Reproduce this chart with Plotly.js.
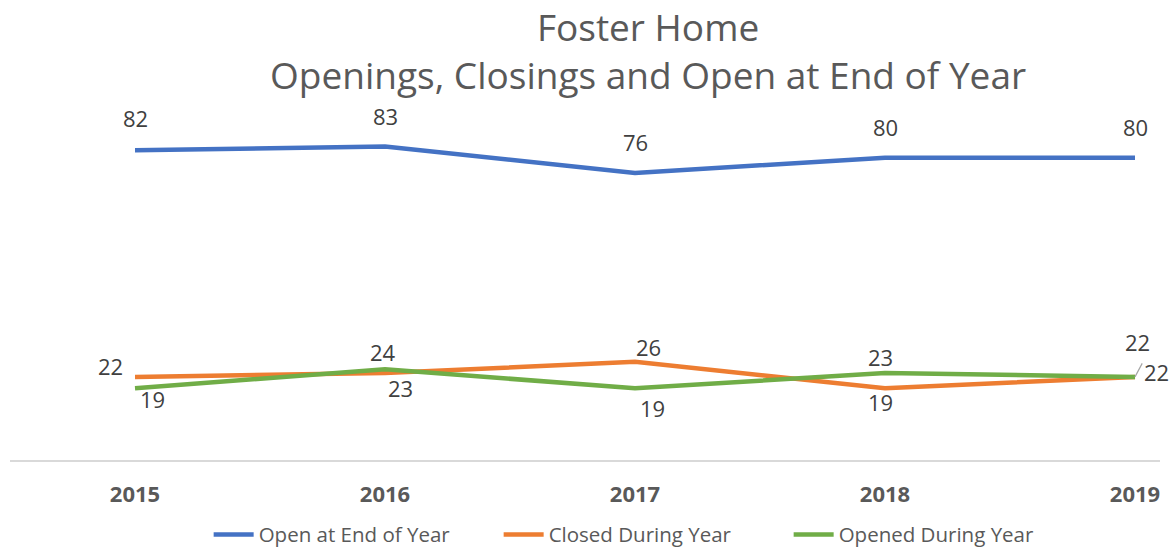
<!DOCTYPE html>
<html>
<head>
<meta charset="utf-8">
<script src="https://cdn.plot.ly/plotly-3.0.1.min.js"></script>
<style>html,body{margin:0;padding:0;background:#fff;}#chart{width:1174px;height:550px;}</style>
</head>
<body>
<div id="chart"></div>
<script>
const years = [2015, 2016, 2017, 2018, 2019];
const yearLabels = ["2015", "2016", "2017", "2018", "2019"];
const openAtEnd = [82, 83, 76, 80, 80];
const closedDuring = [22, 23, 26, 19, 22];
const openedDuring = [19, 24, 19, 23, 22];

const FONT = "Open Sans, Noto Sans, sans-serif";
const series = [
  {name: "Open at End of Year", values: openAtEnd, color: "#4472C4",
   dx: [0, 0, 0, 0, 0], dy: [32, 30, 31, 31, 31]},
  {name: "Closed During Year", values: closedDuring, color: "#ED7D31",
   dx: [-25, 15, 13, -5, 2], dy: [11, -15, 15, -14, 35]},
  {name: "Opened During Year", values: openedDuring, color: "#70AD47",
   dx: [17, -2, 17, -5, 21], dy: [-11, 17, -20, 16, 5]}
];

const traces = series.map(s => ({
  type: "scatter", mode: "lines", name: s.name,
  x: years, y: s.values,
  line: {color: s.color, width: 4.5},
  hoverinfo: "skip"
}));

const annotations = [];
series.forEach((s, si) => {
  s.values.forEach((v, i) => {
    annotations.push({
      x: years[i], y: v, xref: "x", yref: "y",
      text: String(v), showarrow: false,
      xshift: s.dx[i], yshift: s.dy[i],
      font: {family: FONT, size: 22, color: "#404040"}
    });
  });
});
// leader line for the last green label
annotations.push({
  x: years[4], y: openedDuring[4], xref: "x", yref: "y",
  ax: 8, ay: -15, axref: "pixel", ayref: "pixel",
  text: "", showarrow: true, arrowhead: 0, arrowwidth: 1.2, arrowcolor: "#a6a6a6",
  standoff: 0, startstandoff: 0
});

const layout = {
  width: 1174, height: 550,
  paper_bgcolor: "#ffffff", plot_bgcolor: "#ffffff",
  margin: {l: 10, r: 14, t: 120, b: 90, autoexpand: false},
  title: {
    text: "Foster Home<br>Openings, Closings and Open at End of Year",
    font: {family: FONT, size: 37, color: "#595959"},
    x: 0.552, xanchor: "center", y: 0.926, yanchor: "top", yref: "container"
  },
  xaxis: {
    range: [2014.5, 2019.1], automargin: false,
    tickvals: years, ticktext: yearLabels.map(t => "<b>" + t + "</b>"),
    showgrid: false, zeroline: false,
    showline: true, linecolor: "#d9d9d9", linewidth: 2,
    ticks: "", ticklabelstandoff: 14,
    tickfont: {family: FONT, size: 22, color: "#595959"}
  },
  yaxis: {
    range: [0, 90], visible: false, showgrid: false, zeroline: false, automargin: false
  },
  showlegend: true,
  legend: {
    orientation: "h", x: 0.551, xanchor: "center",
    yref: "container", y: 0.028, yanchor: "middle",
    font: {family: FONT, size: 20.5, color: "#595959"},
    itemwidth: 40, tracegroupgap: 0,
    entrywidth: 235, entrywidthmode: "pixels"
  },
  annotations: annotations
};

Plotly.newPlot("chart", traces, layout, {displayModeBar: false, staticPlot: true});
</script>
</body>
</html>
